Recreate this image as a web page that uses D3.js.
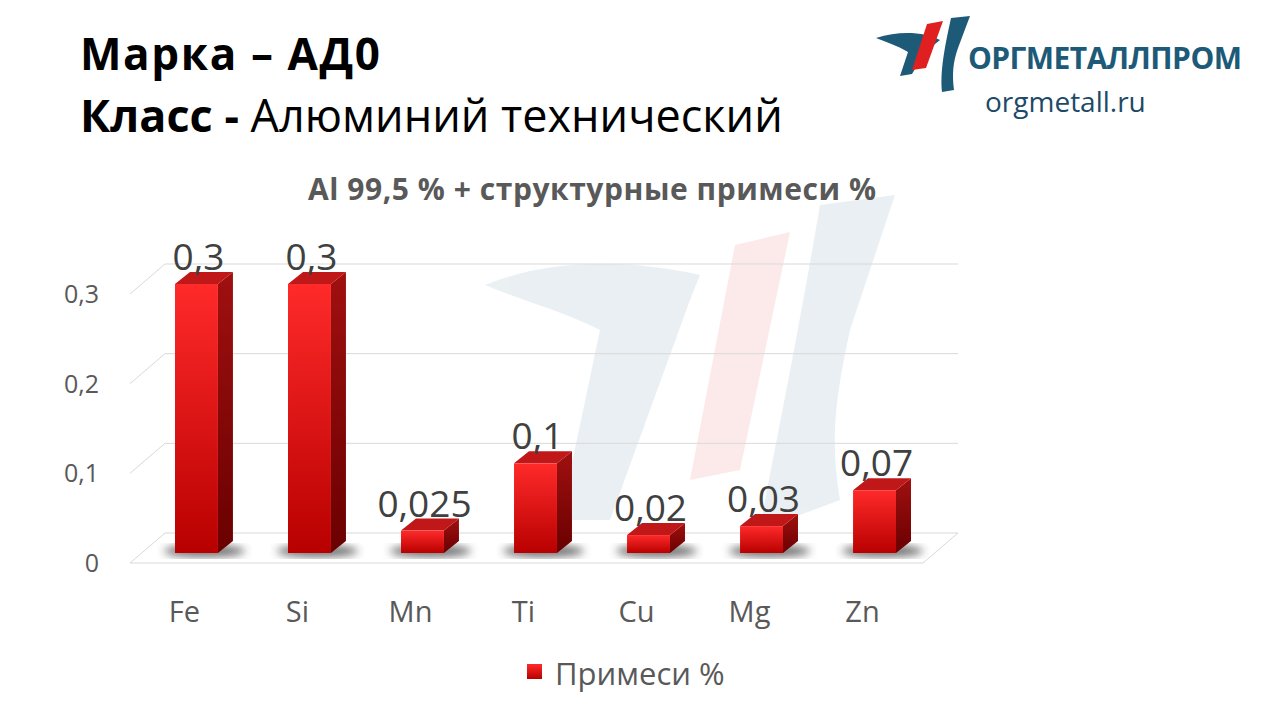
<!DOCTYPE html>
<html><head><meta charset="utf-8">
<script src="https://cdn.jsdelivr.net/npm/d3@7"></script>
<style>body{margin:0;background:#fff}svg{display:block;font-family:"Open Sans",sans-serif}</style>
</head><body><svg id="c" width="1280" height="720"></svg>
<script>
// Chart data
var elements = ['Fe', 'Si', 'Mn', 'Ti', 'Cu', 'Mg', 'Zn'];
var values = [0.3, 0.3, 0.025, 0.1, 0.02, 0.03, 0.07];
var labels = ['0,3', '0,3', '0,025', '0,1', '0,02', '0,03', '0,07'];
var ticks = [0, 0.1, 0.2, 0.3];
var tickLabels = ['0', '0,1', '0,2', '0,3'];

let svg = d3.select('#c');
let defs = svg.append('defs');

let g1 = defs.append('linearGradient').attr('id', 'front').attr('x1', 0).attr('y1', 0).attr('x2', 0).attr('y2', 1);
g1.append('stop').attr('offset', 0).attr('stop-color', '#ff2a2a');
g1.append('stop').attr('offset', 1).attr('stop-color', '#b80000');
let g2 = defs.append('linearGradient').attr('id', 'side').attr('x1', 0).attr('y1', 0).attr('x2', 0).attr('y2', 1);
g2.append('stop').attr('offset', 0).attr('stop-color', '#a01010');
g2.append('stop').attr('offset', 1).attr('stop-color', '#6a0000');
defs.append('filter').attr('id', 'blur').append('feGaussianBlur').attr('stdDeviation', 4);

// Faint watermark logo
let wm = svg.append('g').attr('opacity', 0.09);
wm.append('path').attr('fill', '#1d5a78')
	.attr('d', 'M485,285 C560,255 640,262 700,275 L690,300 L610,520 L560,520 L600,330 C560,310 520,300 485,285 Z');
wm.append('path').attr('fill', '#e02020')
	.attr('d', 'M735,245 L790,232 L740,470 L690,480 Z');
wm.append('path').attr('fill', '#1d5a78')
	.attr('d', 'M820,205 L895,195 L850,330 C835,400 830,440 840,500 L760,530 C770,470 790,380 820,205 Z');

// Scales: back wall and front bar plane
let x = d3.scaleBand().domain(elements).range([175, 896]).paddingInner(0.62).paddingOuter(0);
let yBack = d3.scaleLinear().domain([0, 0.3]).range([533, 264]);
let yFront = d3.scaleLinear().domain([0, 0.3]).range([553, 284]);
let dx = 35, dy = 30;

// Grid: back lines + left diagonal
let grid = svg.append('g').attr('stroke', '#d9d9d9').attr('fill', 'none');
ticks.forEach(t => {
	grid.append('line').attr('x1', 165).attr('x2', 958).attr('y1', yBack(t)).attr('y2', yBack(t));
	grid.append('line').attr('x1', 165).attr('x2', 165 - dx).attr('y1', yBack(t)).attr('y2', yBack(t) + dy);
});
grid.append('line').attr('x1', 130).attr('x2', 923).attr('y1', 563).attr('y2', 563);
grid.append('line').attr('x1', 958).attr('x2', 923).attr('y1', 533).attr('y2', 563);

// Y tick labels
svg.append('g').selectAll('text').data(ticks).join('text')
	.attr('x', 99).attr('y', (d) => yBack(d) + dy + 9)
	.attr('text-anchor', 'end').attr('font-size', 25).attr('fill', '#595959')
	.text((d, i) => tickLabels[i]);

// Bars
let bw = x.bandwidth(), sx = 15, sy = 12;
let bars = svg.append('g').selectAll('g').data(values).join('g');
bars.append('ellipse')
	.attr('cx', (d, i) => x(elements[i]) + bw / 2 + 8).attr('cy', 551)
	.attr('rx', bw * 0.95).attr('ry', 6).attr('fill', '#333').attr('opacity', 0.7).attr('filter', 'url(#blur)');
bars.append('path').attr('fill', 'url(#side)')
	.attr('d', (d, i) => {
		let x0 = x(elements[i]) + bw, y0 = yFront(d), y1 = yFront(0);
		return `M${x0},${y0} L${x0 + sx},${y0 - sy} L${x0 + sx},${y1 - sy} L${x0},${y1} Z`;
	});
bars.append('path').attr('fill', '#c01818')
	.attr('d', (d, i) => {
		let x0 = x(elements[i]), y0 = yFront(d);
		return `M${x0},${y0} L${x0 + sx},${y0 - sy} L${x0 + bw + sx},${y0 - sy} L${x0 + bw},${y0} Z`;
	});
bars.append('rect')
	.attr('x', (d, i) => x(elements[i])).attr('y', (d) => yFront(d))
	.attr('width', bw).attr('height', (d) => yFront(0) - yFront(d)).attr('fill', 'url(#front)');
bars.append('text')
	.attr('x', (d, i) => x(elements[i]) + bw / 2 + 2).attr('y', (d) => yFront(d) - 14)
	.attr('text-anchor', 'middle').attr('font-size', 37).attr('fill', '#404040')
	.text((d, i) => labels[i]);

// Category labels
svg.append('g').selectAll('text').data(elements).join('text')
	.attr('x', (d) => x(d) + bw / 2 - 12).attr('y', 622)
	.attr('text-anchor', 'middle').attr('font-size', 29).attr('fill', '#595959')
	.text((d) => d);

// Titles
svg.append('text').attr('x', 80).attr('y', 70).attr('font-size', 44).attr('font-weight', 'bold').attr('fill', '#000')
	.attr('textLength', 300).text('Марка – АД0');
let t2 = svg.append('text').attr('x', 80).attr('y', 132).attr('font-size', 45).attr('fill', '#000');
t2.append('tspan').attr('font-weight', 'bold').text('Класс - ');
t2.append('tspan').text('Алюминий технический');
svg.append('text').attr('x', 592).attr('y', 200).attr('text-anchor', 'middle').attr('font-size', 30)
	.attr('font-weight', 'bold').attr('fill', '#595959').attr('textLength', 568).text('Al 99,5 % + структурные примеси %');

// Legend
svg.append('rect').attr('x', 527).attr('y', 664).attr('width', 15).attr('height', 15).attr('fill', 'url(#front)');
svg.append('text').attr('x', 555).attr('y', 685).attr('font-size', 31).attr('fill', '#595959').text('Примеси %');

// Logo
let logo = svg.append('g');
logo.append('path').attr('fill', '#1d5a78')
	.attr('d', 'M876,38 C900,30 925,32 940,40 L925,52 L912,74 L900,76 L908,52 C898,46 886,42 876,38 Z');
logo.append('path').attr('fill', '#e02020').attr('d', 'M927,24 L943,21 L926,68 L912,70 Z');
logo.append('path').attr('fill', '#1d5a78')
	.attr('d', 'M951,18 L970,16 L958,48 C953,62 952,74 954,90 L942,92 C940,72 944,50 951,18 Z');
logo.append('text').attr('x', 968).attr('y', 69).attr('font-size', 30).attr('font-weight', 'bold')
	.attr('fill', '#1d5a78').attr('textLength', 274).text('ОРГМЕТАЛЛПРОМ');
logo.append('text').attr('x', 985).attr('y', 112).attr('font-size', 28).attr('fill', '#1d4a68').text('orgmetall.ru');
</script></body></html>
